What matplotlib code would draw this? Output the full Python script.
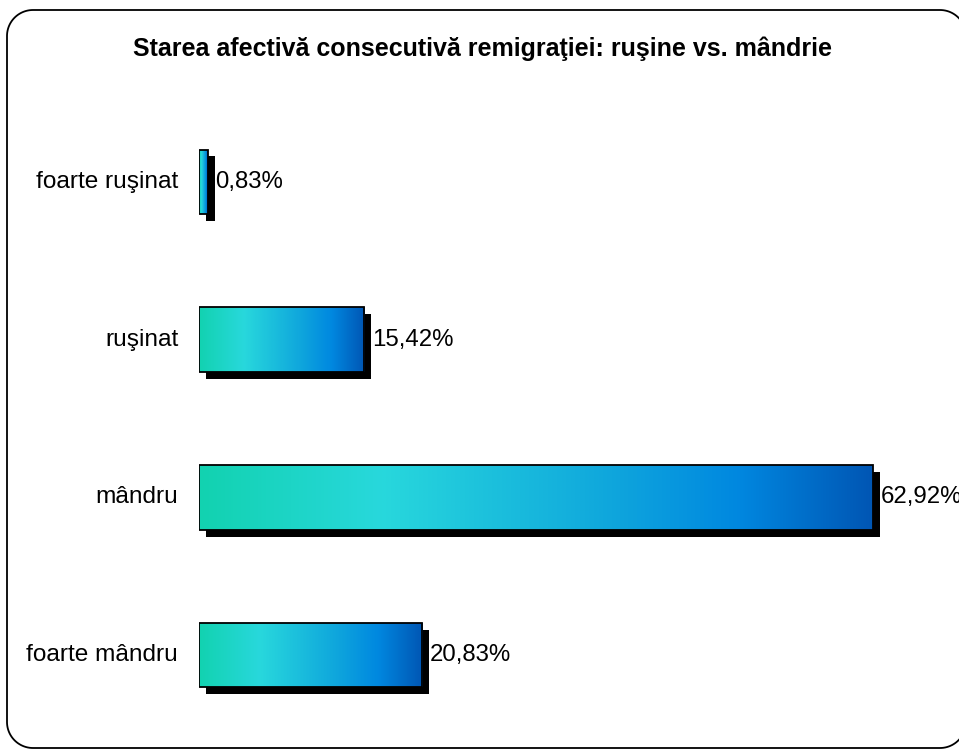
import numpy as np
import matplotlib
matplotlib.use('Agg')
import matplotlib.pyplot as plt
import matplotlib.patheffects as pe
from matplotlib.colors import LinearSegmentedColormap
from matplotlib.patches import PathPatch
from matplotlib.path import Path
from matplotlib.transforms import IdentityTransform

plt.rcParams.update({
    "font.family": ["Liberation Sans", "DejaVu Sans"],
    "font.size": 17,
})

# ---- Data (bottom to top) ----
categories = ['foarte mândru', 'mândru', 'ruşinat', 'foarte ruşinat']
values = [20.83, 62.92, 15.42, 0.83]
value_labels = ['20,83%', '62,92%', '15,42%', '0,83%']
TITLE = 'Starea afectivă consecutivă remigraţiei: ruşine vs. mândrie'

# teal -> cyan -> blue gradient along each bar
GRAD = LinearSegmentedColormap.from_list('bar_grad', [
    (0.00, '#12d2b0'),
    (0.27, '#28d8dc'),
    (0.60, '#10a8dc'),
    (0.80, '#0088e0'),
    (1.00, '#0056b4'),
])

W, H, DPI = 959, 753, 100


def rounded_frame(x0, y0, x1, y1, r, n=24):
    """Closed rounded-rectangle path in pixel units."""
    pts = []
    corners = [(x1 - r, y1 - r, 0), (x0 + r, y1 - r, 90),
               (x0 + r, y0 + r, 180), (x1 - r, y0 + r, 270)]
    for cx, cy, a0 in corners:
        t = np.radians(np.linspace(a0, a0 + 90, n))
        pts.extend(zip(cx + r * np.cos(t), cy + r * np.sin(t)))
    pts.append(pts[0])
    return Path(pts)


fig = plt.figure(figsize=(W / DPI, H / DPI), dpi=DPI, facecolor='white')

# outer frame (its right side runs past the canvas edge)
frame = PathPatch(rounded_frame(7, H - 748, 966, H - 10, 26),
                  transform=IdentityTransform(), fill=False,
                  edgecolor='black', lw=1.3, zorder=0)
fig.patches.append(frame)

ax = fig.add_axes([199 / W, (H - 734) / H, 750 / W, 631 / H])
ax.set_xlim(0, 750 / 10.71)
ax.set_ylim(-0.5, 3.5)
ax.axis('off')

y = np.arange(len(categories))
bars = ax.barh(y, values, height=0.41, color='none', edgecolor='black',
               lw=1.3, zorder=3)

grad = np.linspace(0, 1, 256).reshape(1, -1)
for b in bars:
    x0, y0 = b.get_x(), b.get_y()
    w, h = b.get_width(), b.get_height()
    # drop shadow behind the bar
    sh = plt.Rectangle((x0, y0), w, h, facecolor='none', edgecolor='none',
                       zorder=1)
    sh.set_path_effects([pe.SimplePatchShadow(offset=(5, -5),
                                              shadow_rgbFace='black',
                                              alpha=1.0)])
    ax.add_patch(sh)
    im = ax.imshow(grad, cmap=GRAD, aspect='auto',
                   extent=(x0, x0 + w, y0, y0 + h), zorder=2,
                   interpolation='bilinear')
    im.set_clip_path(b)

for yi, v, lab, cat in zip(y, values, value_labels, categories):
    ax.annotate(lab, (v, yi), xytext=(5.5, 0), textcoords='offset points',
                ha='left', va='center', fontsize=17.3, annotation_clip=False)
    ax.annotate(cat, (0, yi), xytext=(-15, 0), textcoords='offset points',
                ha='right', va='center', fontsize=17.6, annotation_clip=False)

fig.text(482 / W, 1 - 49 / H, TITLE, ha='center', va='center',
         fontsize=18, fontweight='bold')

fig.savefig('out.png', dpi=DPI, facecolor='white')
